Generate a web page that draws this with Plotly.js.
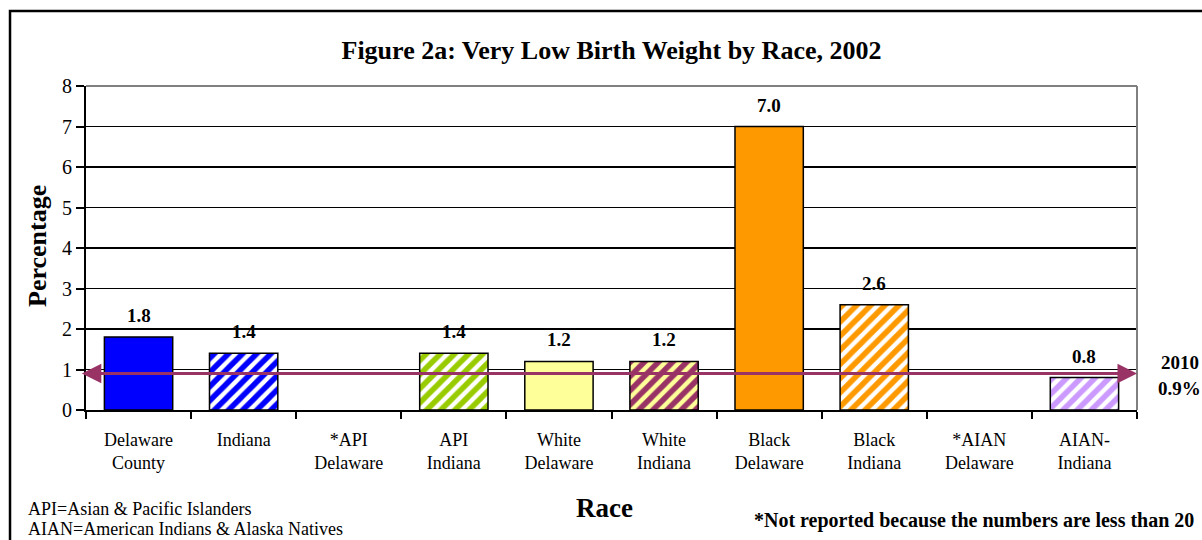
<!DOCTYPE html>
<html><head><meta charset="utf-8">
<script src="https://cdn.plot.ly/plotly-3.0.1.min.js"></script>
<style>html,body{margin:0;padding:0;background:#fff;}#chart{width:1202px;height:540px;}</style>
</head><body><div id="chart"></div>
<script>
const categories = ["Delaware<br>County","Indiana","*API<br>Delaware","API<br>Indiana","White<br>Delaware","White<br>Indiana","Black<br>Delaware","Black<br>Indiana","*AIAN<br>Delaware","AIAN-<br>Indiana"];
const values = [1.8, 1.4, null, 1.4, 1.2, 1.2, 7.0, 2.6, null, 0.8];
const barColors = ["#0000FF","#FFFFFF","#FFFFFF","#FFFFFF","#FFFF99","#FFFF99","#FF9900","#FFFFFF","#FFFFFF","#FFFFFF"];
const stripeColors = ["#0000FF","#0000FF","#000000","#99CC00","#FFFF99","#993366","#FF9900","#FF9900","#000000","#CC99FF"];
const patternShapes = ["","/","","/","","/","","/","","/"];
const yTicks = [0,1,2,3,4,5,6,7,8];
const target2010 = [0.9];
const targetLabel = ["2010","0.9%"];

const F = "Liberation Serif, Times New Roman, serif";

const traces = categories.map((c, i) => ({
  type: "bar",
  x: [c],
  y: [values[i]],
  width: 0.65,
  marker: {
    color: barColors[i],
    line: {color: "#000", width: 1.5},
    pattern: {shape: patternShapes[i], fgcolor: stripeColors[i], fgopacity: 1, size: 10, solidity: 0.55, fillmode: "overlay"}
  },
  hoverinfo: "skip",
  cliponaxis: false
}));

const annotations = [];
values.forEach((v, i) => {
  if (v === null) return;
  annotations.push({x: categories[i], y: v, xref: "x", yref: "y", text: v.toFixed(1), showarrow: false,
    yanchor: "bottom", yshift: 9, font: {family: F, size: 19, color: "#000", weight: "bold"}});
});
const tv = target2010[0];
annotations.push({x: -0.54, y: tv, ax: 5, ay: tv, xref: "x", yref: "y", axref: "x", ayref: "y", text: "",
  showarrow: true, arrowhead: 2, arrowsize: 1.3, arrowwidth: 3, arrowcolor: "#993366", standoff: 0, startstandoff: 0});
annotations.push({x: 9.5, y: tv, ax: 4, ay: tv, xref: "x", yref: "y", axref: "x", ayref: "y", text: "",
  showarrow: true, arrowhead: 2, arrowsize: 1.3, arrowwidth: 3, arrowcolor: "#993366", standoff: 0, startstandoff: 0});

const pyToPaper = py => (410 - py) / 324;
const pxToPaper = px => (px - 86) / 1051;

const layout = {
  width: 1202, height: 540,
  margin: {l: 86, r: 65, t: 86, b: 130},
  paper_bgcolor: "#fff", plot_bgcolor: "#fff",
  showlegend: false,
  barmode: "overlay",
  title: {text: "Figure 2a: Very Low Birth Weight by Race, 2002", x: 0.5, xref: "paper", y: 0.907, yanchor: "middle",
    font: {family: F, size: 26, color: "#000", weight: "bold"}},
  xaxis: {
    type: "category", range: [-0.5, 9.5], tickson: "boundaries", ticks: "outside", ticklen: 7, tickcolor: "#000", tickwidth: 2,
    showline: true, linecolor: "#000", linewidth: 2, showgrid: false, zeroline: false, ticklabelstandoff: 12,
    tickfont: {family: F, size: 18, color: "#000"},
    title: {text: ""}
  },
  yaxis: {
    range: [0, 8], tickvals: yTicks, ticks: "outside", ticklen: 8, tickcolor: "#000", tickwidth: 2,
    showline: true, linecolor: "#000", linewidth: 2, showgrid: true, gridcolor: "#000", gridwidth: 1.5, zeroline: false,
    tickfont: {family: F, size: 20, color: "#000"},
    title: {text: ""}
  },
  shapes: [
    {type: "line", xref: "paper", yref: "paper", x0: 0, x1: 1, y0: 1, y1: 1, line: {color: "#808080", width: 2}, layer: "above"},
    {type: "line", xref: "paper", yref: "paper", x0: 1, x1: 1, y0: 0, y1: 1, line: {color: "#808080", width: 2}, layer: "above"},
    {type: "rect", xref: "paper", yref: "paper", x0: -0.0723, x1: 1.2, y0: -0.6, y1: 1.2315, line: {color: "#000", width: 2.5}, layer: "below"}
  ],
  annotations: annotations.concat([
    {x: pxToPaper(1180), y: pyToPaper(362), xref: "paper", yref: "paper", xanchor: "center", yanchor: "middle", showarrow: false,
      text: targetLabel[0], font: {family: F, size: 19, color: "#000", weight: "bold"}},
    {x: pxToPaper(1179), y: pyToPaper(388), xref: "paper", yref: "paper", xanchor: "center", yanchor: "middle", showarrow: false,
      text: targetLabel[1], font: {family: F, size: 19, color: "#000", weight: "bold"}},
    {x: pxToPaper(37), y: pyToPaper(246), xref: "paper", yref: "paper", xanchor: "center", yanchor: "middle", showarrow: false,
      textangle: -90, text: "Percentage", font: {family: F, size: 26, color: "#000", weight: "bold"}},
    {x: pxToPaper(604), y: pyToPaper(508), xref: "paper", yref: "paper", xanchor: "center", yanchor: "middle", showarrow: false,
      text: "Race", font: {family: F, size: 27, color: "#000", weight: "bold"}},
    {x: pxToPaper(26), y: pyToPaper(509), xref: "paper", yref: "paper", xanchor: "left", yanchor: "middle", showarrow: false,
      text: "API=Asian & Pacific Islanders", font: {family: F, size: 18, color: "#000"}},
    {x: pxToPaper(26), y: pyToPaper(529), xref: "paper", yref: "paper", xanchor: "left", yanchor: "middle", showarrow: false,
      text: "AIAN=American Indians & Alaska Natives", font: {family: F, size: 18, color: "#000"}},
    {x: pxToPaper(1196), y: pyToPaper(520), xref: "paper", yref: "paper", xanchor: "right", yanchor: "middle", showarrow: false,
      text: "*Not reported because the numbers are less than 20", font: {family: F, size: 20, color: "#000", weight: "bold"}}
  ])
};

Plotly.newPlot("chart", traces, layout, {displayModeBar: false, staticPlot: true});
</script>
</body></html>
